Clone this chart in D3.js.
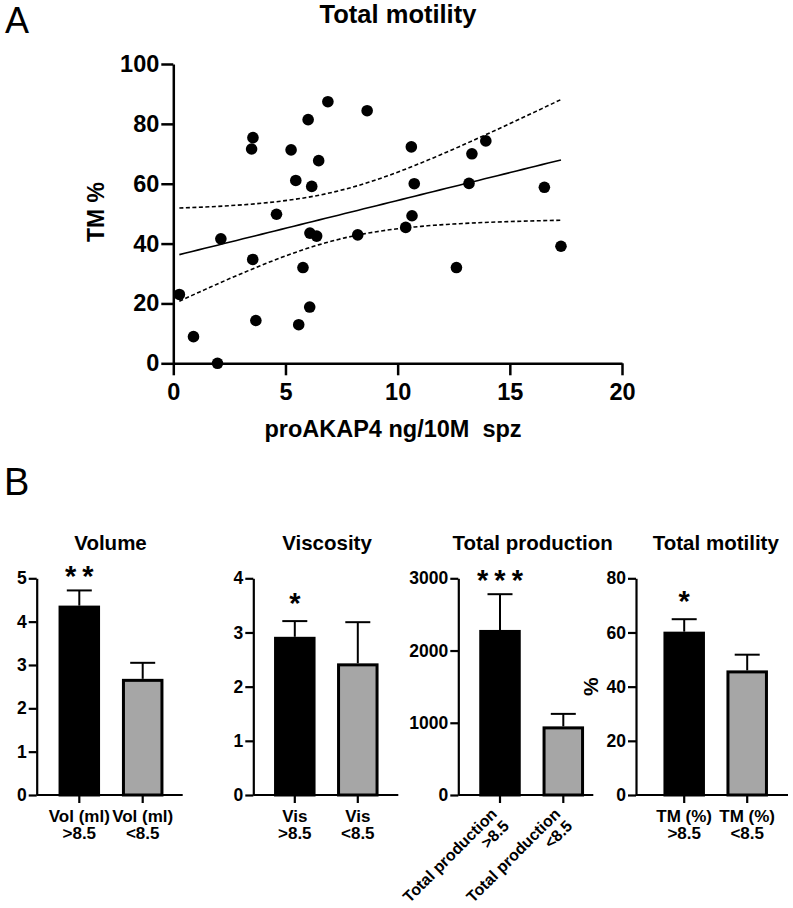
<!DOCTYPE html>
<html><head><meta charset="utf-8">
<script src="https://cdn.jsdelivr.net/npm/d3@7"></script>
<style>body{margin:0;background:#fff} svg{display:block} text{font-family:"Liberation Sans",Arial,Helvetica,sans-serif}</style>
</head><body><svg id="c" width="793" height="908"></svg>
<script>
// ---------- Panel A data ----------
const scatterX = [0.27,0.90,1.97,2.12,3.55,3.49,3.54,3.68,4.60,5.25,5.46,5.59,5.78,6.01,6.17,6.09,6.08,6.39,6.48,6.89,8.22,8.64,10.36,10.61,10.64,10.74,12.62,13.18,13.31,13.93,16.54,17.28];
const scatterY = [23.0,8.9,0.0,41.6,75.4,71.6,34.7,14.3,49.8,71.3,61.1,12.9,32.0,81.4,59.1,43.5,18.8,42.5,67.7,87.4,42.9,84.4,45.4,72.3,49.3,60.0,32.0,60.1,70.0,74.3,58.8,39.1];
const scatterXTicks = [0,5,10,15,20];
const scatterYTicks = [0,20,40,60,80,100];

// ---------- Panel B data ----------
const volumeLabels = [["Vol (ml)",">8.5"],["Vol (ml)","<8.5"]];
const volumeMeans = [4.37,2.68];
const volumeSEM = [0.35,0.37];
const volumeTicks = [0,1,2,3,4,5];
const volumeSig = ["**",""];

const viscLabels = [["Vis",">8.5"],["Vis","<8.5"]];
const viscMeans = [2.92,2.43];
const viscSEM = [0.29,0.76];
const viscTicks = [0,1,2,3,4];
const viscSig = ["*",""];

const prodLabels = [["Total production",">8.5"],["Total production","<8.5"]];
const prodMeans = [2285,950];
const prodSEM = [495,173];
const prodTicks = [0,1000,2000,3000];
const prodSig = ["***",""];

const tmLabels = [["TM (%)",">8.5"],["TM (%)","<8.5"]];
const tmMeans = [60.3,46.0];
const tmSEM = [4.6,5.8];
const tmTicks = [0,20,40,60,80];
const tmSig = ["*",""];

const barFills = ["#000000","#a6a6a6"];

const svg = d3.select("#c");
const F = '"Liberation Sans",Arial,Helvetica,sans-serif';

// ---------- Panel A ----------
svg.append("text").attr("x",5).attr("y",33).attr("font-size",36).text("A");
svg.append("text").attr("x",398).attr("y",23).attr("text-anchor","middle")
  .attr("font-size",25.5).attr("font-weight","bold").text("Total motility");

const x = d3.scaleLinear().domain([0,20]).range([173.3,622]);
const y = d3.scaleLinear().domain([0,100]).range([363.3,64]);

const gx = svg.append("g").attr("transform","translate(0,363.3)")
  .call(d3.axisBottom(x).tickValues(scatterXTicks).tickSize(12).tickSizeOuter(0).tickPadding(8));
const gy = svg.append("g").attr("transform","translate(173.3,0)")
  .call(d3.axisLeft(y).tickValues(scatterYTicks).tickSize(12).tickSizeOuter(0).tickPadding(2));
[gx,gy].forEach(g=>{
  g.selectAll("path,line").attr("stroke","#000").attr("stroke-width",2.5);
  g.selectAll("text").attr("font-size",23.5).attr("font-weight","bold").attr("fill","#000").attr("font-family",F);
});
gx.selectAll("text").attr("dy","0.71em");

svg.append("text").attr("x",393).attr("y",437).attr("text-anchor","middle")
  .attr("font-size",23.5).attr("font-weight","bold").attr("xml:space","preserve").text("proAKAP4 ng/10M  spz");
svg.append("text").attr("transform","translate(104,212) rotate(-90)").attr("text-anchor","middle")
  .attr("font-size",23).attr("font-weight","bold").text("TM %");

// linear regression with 95% confidence band
const n = scatterX.length;
const xbar = d3.mean(scatterX), ybar = d3.mean(scatterY);
let sxx=0, sxy=0;
for(let i=0;i<n;i++){sxx+=(scatterX[i]-xbar)**2; sxy+=(scatterX[i]-xbar)*(scatterY[i]-ybar);}
const slope = sxy/sxx, icpt = ybar - slope*xbar;
let sse=0; for(let i=0;i<n;i++){sse+=(scatterY[i]-(icpt+slope*scatterX[i]))**2;}
const sres = Math.sqrt(sse/(n-2)), tcrit = 2.042;
const [xmin,xmax] = d3.extent(scatterX);
const grid = d3.range(0,61).map(k=>xmin+(xmax-xmin)*k/60);
const band = grid.map(xv=>{
  const yh = icpt+slope*xv;
  const h = tcrit*sres*Math.sqrt(1/n+(xv-xbar)**2/sxx);
  return {x:xv, y:yh, lo:yh-h, hi:yh+h};
});
const mkLine = key => d3.line().x(d=>x(d.x)).y(d=>y(d[key]));
svg.append("path").datum(band).attr("d",mkLine("y")).attr("fill","none").attr("stroke","#000").attr("stroke-width",1.6);
["lo","hi"].forEach(k=>svg.append("path").datum(band).attr("d",mkLine(k)).attr("fill","none")
  .attr("stroke","#000").attr("stroke-width",1.6).attr("stroke-dasharray","4,2.5"));

svg.append("g").selectAll("circle").data(scatterX).join("circle")
  .attr("cx",(d)=>x(d)).attr("cy",(d,i)=>y(scatterY[i])).attr("r",5.8).attr("fill","#000");

// ---------- Panel B ----------
svg.append("text").attr("x",4).attr("y",495).attr("font-size",38).text("B");

const panels = [
  {title:"Volume", tx:110.5, ax:36.7, len:146, c0:42.6, c1:106, max:5, ticks:volumeTicks, means:volumeMeans, sem:volumeSEM, labels:volumeLabels, sig:volumeSig, rot:false},
  {title:"Viscosity", tx:327, ax:253.3, len:145, c0:41.5, c1:104.5, max:4, ticks:viscTicks, means:viscMeans, sem:viscSEM, labels:viscLabels, sig:viscSig, rot:false},
  {title:"Total production", tx:532.7, ax:458.3, len:135, c0:41.7, c1:105, max:3000, ticks:prodTicks, means:prodMeans, sem:prodSEM, labels:prodLabels, sig:prodSig, rot:true},
  {title:"Total motility", tx:715.8, ax:636, len:152, c0:48.2, c1:111.2, max:80, ticks:tmTicks, means:tmMeans, sem:tmSEM, labels:tmLabels, sig:tmSig, rot:false, ylab:"%"}
];
const yTop=578.3, yBot=795, barW=41.5;

panels.forEach(p=>{
  const g = svg.append("g");
  g.append("text").attr("x",p.tx).attr("y",550).attr("text-anchor","middle")
    .attr("font-size",20.5).attr("font-weight","bold").text(p.title);
  const ys = d3.scaleLinear().domain([0,p.max]).range([yBot,yTop]);
  const xs = d3.scalePoint().domain([0,1]).range([p.ax+p.c0, p.ax+p.c1]);

  p.means.forEach((m,i)=>{
    const cx = xs(i);
    g.append("line").attr("x1",cx).attr("x2",cx).attr("y1",ys(m)).attr("y2",ys(m+p.sem[i]))
      .attr("stroke","#000").attr("stroke-width",2);
    g.append("line").attr("x1",cx-12.5).attr("x2",cx+12.5).attr("y1",ys(m+p.sem[i])).attr("y2",ys(m+p.sem[i]))
      .attr("stroke","#000").attr("stroke-width",2);
    g.append("rect").attr("x",cx-barW/2+1.5).attr("width",barW-3)
      .attr("y",ys(m)+1.5).attr("height",yBot-ys(m)-1.5)
      .attr("fill",barFills[i]).attr("stroke","#000").attr("stroke-width",3);
    if(p.sig[i]){
      const multi = p.sig[i].length>1;
      g.append("text").attr("x",cx).attr("y",ys(m+p.sem[i])-(multi?4:8)).attr("text-anchor","middle")
        .attr("font-size",29).attr("font-weight","bold").attr("letter-spacing",multi?"6px":"0")
        .attr("dx",multi?"3px":"0").text(p.sig[i]);
    }
  });

  const ga = g.append("g").attr("transform",`translate(${p.ax},0)`)
    .call(d3.axisLeft(ys).tickValues(p.ticks).tickSize(8).tickSizeOuter(0).tickPadding(2).tickFormat(d3.format("d")));
  ga.selectAll("path,line").attr("stroke","#000").attr("stroke-width",2.2);
  ga.selectAll("text").attr("font-size",17.5).attr("font-weight","bold").attr("fill","#000").attr("font-family",F);
  g.append("line").attr("x1",p.ax).attr("x2",p.ax+p.len).attr("y1",yBot).attr("y2",yBot)
    .attr("stroke","#000").attr("stroke-width",2.2);
  [0,1].forEach(i=>{
    const cx = xs(i);
    g.append("line").attr("x1",cx).attr("x2",cx).attr("y1",yBot).attr("y2",yBot+8)
      .attr("stroke","#000").attr("stroke-width",2.2);
    if(p.rot){
      const t = g.append("text").attr("transform",`translate(${cx-2},815) rotate(-45)`)
        .attr("text-anchor","end").attr("font-size",16).attr("font-weight","bold");
      t.append("tspan").attr("x",0).attr("y",0).text(p.labels[i][0]);
      t.append("tspan").attr("x",0).attr("y",17).text(p.labels[i][1]);
    } else {
      const t = g.append("text").attr("text-anchor","middle").attr("font-size",17).attr("font-weight","bold");
      t.append("tspan").attr("x",cx).attr("y",821.7).text(p.labels[i][0]);
      t.append("tspan").attr("x",cx).attr("y",839.3).text(p.labels[i][1]);
    }
  });
  if(p.ylab){
    g.append("text").attr("transform",`translate(598,686.7) rotate(-90)`).attr("text-anchor","middle")
      .attr("font-size",21).attr("font-weight","bold").text(p.ylab);
  }
});
</script></body></html>
